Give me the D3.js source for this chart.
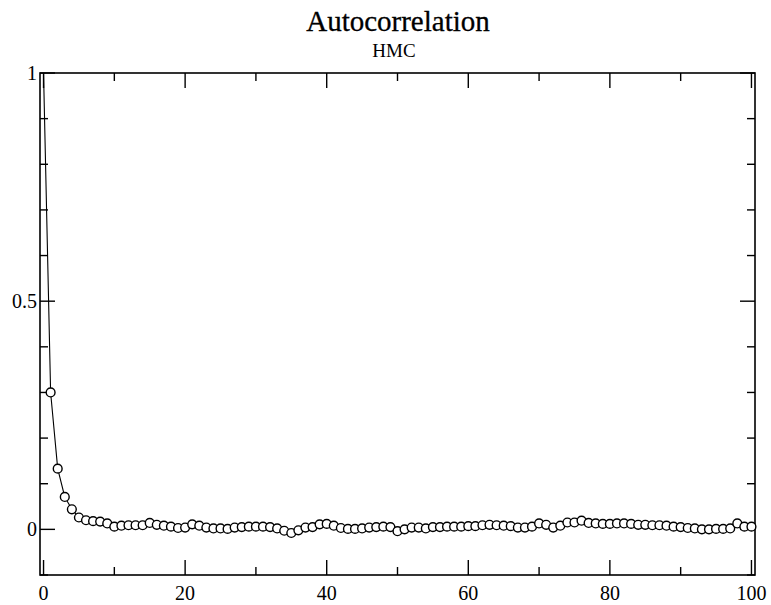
<!DOCTYPE html>
<html>
<head>
<meta charset="utf-8">
<script src="https://cdn.jsdelivr.net/npm/d3@7/dist/d3.min.js"></script>
<style>
  html, body { margin: 0; padding: 0; background: #fff; }
  svg { display: block; }
</style>
</head>
<body>
<svg id="chart" width="771" height="605"></svg>
<script>
const title = "Autocorrelation";
const subtitle = "HMC";
const lags = d3.range(0, 101);
const acf = [
  1.000, 0.300, 0.133, 0.071, 0.044, 0.026, 0.020, 0.018, 0.017, 0.013,
  0.006, 0.008, 0.009, 0.009, 0.009, 0.014, 0.010, 0.008, 0.006, 0.003,
  0.004, 0.011, 0.008, 0.004, 0.002, 0.002, 0.001, 0.004, 0.005, 0.006,
  0.006, 0.006, 0.005, 0.002, -0.003, -0.008, -0.002, 0.004, 0.005, 0.011,
  0.012, 0.008, 0.003, 0.001, 0.001, 0.002, 0.004, 0.005, 0.006, 0.005,
  -0.004, 0.000, 0.004, 0.004, 0.002, 0.005, 0.005, 0.006, 0.006, 0.006,
  0.007, 0.007, 0.009, 0.010, 0.009, 0.008, 0.007, 0.004, 0.004, 0.006,
  0.013, 0.010, 0.004, 0.008, 0.015, 0.015, 0.019, 0.014, 0.013, 0.012,
  0.012, 0.013, 0.013, 0.012, 0.010, 0.010, 0.009, 0.009, 0.008, 0.006,
  0.005, 0.003, 0.002, 0.000, 0.000, 0.001, 0.001, 0.002, 0.013, 0.006,
  0.006
];
const xMajorTicks = [0, 20, 40, 60, 80, 100];
const xMinorTicks = [10, 30, 50, 70, 90];
const yMajorTicks = [0, 0.5, 1];
const yMinorTicks = [-0.1, 0.1, 0.2, 0.3, 0.4, 0.6, 0.7, 0.8, 0.9];
const yTickLabels = {"0": "0", "0.5": "0.5", "1": "1"};

const FONT = "'Liberation Serif', 'Times New Roman', Times, 'DejaVu Serif', serif";
const svg = d3.select("#chart");
const L = 40, R = 755, T = 73, B = 575;
const x = d3.scaleLinear().domain([-0.5, 100.5]).range([L, R]);
const y = d3.scaleLinear().domain([-0.1, 1]).range([B, T]);

svg.append("text").attr("x", 398).attr("y", 31).attr("text-anchor", "middle")
  .attr("font-family", FONT).attr("font-size", 29).attr("fill", "#000")
  .attr("stroke", "#000").attr("stroke-width", 0.3).text(title);
svg.append("text").attr("x", 394).attr("y", 57).attr("text-anchor", "middle")
  .attr("font-family", FONT).attr("font-size", 19).attr("fill", "#000").text(subtitle);

const g = svg.append("g");
const tickStyle = sel => sel.attr("stroke", "#000").attr("stroke-width", 1.4);

[[xMajorTicks, 15], [xMinorTicks, 8]].forEach(([ticks, len]) => {
  ticks.forEach(t => {
    g.append("line").attr("x1", x(t)).attr("x2", x(t)).attr("y1", B).attr("y2", B - len).call(tickStyle);
    g.append("line").attr("x1", x(t)).attr("x2", x(t)).attr("y1", T).attr("y2", T + len).call(tickStyle);
  });
});
[[yMajorTicks, 15], [yMinorTicks, 8]].forEach(([ticks, len]) => {
  ticks.forEach(t => {
    g.append("line").attr("y1", y(t)).attr("y2", y(t)).attr("x1", L).attr("x2", L + len).call(tickStyle);
    g.append("line").attr("y1", y(t)).attr("y2", y(t)).attr("x1", R).attr("x2", R - len).call(tickStyle);
  });
});

g.append("rect").attr("x", L).attr("y", T).attr("width", R - L).attr("height", B - T)
  .attr("fill", "none").attr("stroke", "#000").attr("stroke-width", 1.6);

xMajorTicks.forEach(t => {
  svg.append("text").attr("x", x(t)).attr("y", 600).attr("text-anchor", "middle")
    .attr("font-family", FONT).attr("font-size", 20).attr("fill", "#000").text(String(t));
});
yMajorTicks.forEach(t => {
  svg.append("text").attr("x", 37).attr("y", y(t) + 7).attr("text-anchor", "end")
    .attr("font-family", FONT).attr("font-size", 20).attr("fill", "#000").text(yTickLabels[String(t)]);
});

const data = lags.map((l, i) => ({lag: l, v: acf[i]}));
const line = d3.line().x(d => x(d.lag)).y(d => y(d.v));
svg.append("path").datum(data).attr("d", line)
  .attr("fill", "none").attr("stroke", "#000").attr("stroke-width", 1.1);
svg.append("g").selectAll("circle").data(data.filter(d => d.lag > 0)).join("circle")
  .attr("cx", d => x(d.lag)).attr("cy", d => y(d.v)).attr("r", 4.4)
  .attr("fill", "#fff").attr("stroke", "#000").attr("stroke-width", 1.4);
</script>
</body>
</html>
